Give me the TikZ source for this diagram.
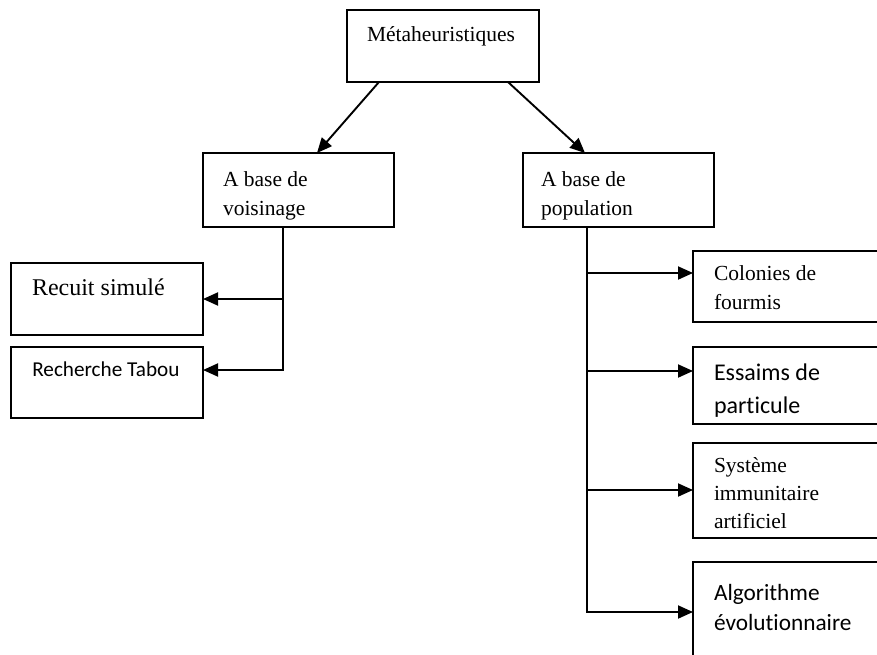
\documentclass[tikz,border=0pt]{standalone}
\usepackage{fontspec}
\setmainfont{Liberation Serif}
\newfontfamily\calib[Ligatures=NoCommon]{Carlito}
\usetikzlibrary{arrows.meta,calc}
\tikzset{
  box/.style={draw=black,line width=1.4pt,rectangle,anchor=north west,inner sep=0pt,outer sep=0pt},
  lbl/.style={anchor=base west,inner sep=0pt,outer sep=0pt,align=left},
  conn/.style={line width=1.9pt,-{Triangle[length=15pt,width=13pt]}},
  tms/.style={font=\fontsize{21.5}{28.5}\selectfont}
}
\begin{document}
\begin{tikzpicture}[x=1pt,y=-1pt]
\useasboundingbox (0,0) rectangle (877,655);
\clip (0,0) rectangle (877,655);
% boxes
\node[box,minimum width=192pt,minimum height=72pt] (meta) at (347,10) {};
\node[box,minimum width=191pt,minimum height=74pt] (vois) at (203,153) {};
\node[box,minimum width=191pt,minimum height=74pt] (pop) at (523,153) {};
\node[box,minimum width=192pt,minimum height=72pt] (recuit) at (11,263) {};
\node[box,minimum width=192pt,minimum height=71pt] (tabou) at (11,347) {};
\node[box,minimum width=200pt,minimum height=71pt] (col) at (693,251) {};
\node[box,minimum width=200pt,minimum height=77pt] (ess) at (693,347) {};
\node[box,minimum width=200pt,minimum height=95pt] (sys) at (693,443) {};
\node[box,minimum width=200pt,minimum height=110pt] (algo) at (693,562) {};
% texts
\node[lbl,tms] (tmeta) at (367,41.7) {Métaheuristiques};
\node[lbl,tms] (tvois1) at (223,186.7) {A base de};
\node[lbl,tms] (tvois2) at (223,215.2) {voisinage};
\node[lbl,tms] (tpop1) at (541,186.7) {A base de};
\node[lbl,tms] (tpop2) at (541,215.2) {population};
\node[lbl,font=\fontsize{24}{28}\selectfont] (trec) at (32,295.7) {Recuit simulé};
\node[lbl,font=\calib\fontsize{21.2}{28}\selectfont] (ttab) at (32.3,376.7) {Recherche Tabou};
\node[lbl,tms] (tcol1) at (714,280.7) {Colonies de};
\node[lbl,tms] (tcol2) at (714,309.4) {fourmis};
\node[lbl,font=\calib\fontsize{24}{33}\selectfont] (tess1) at (714,380) {Essaims de};
\node[lbl,font=\calib\fontsize{24}{33}\selectfont] (tess2) at (714,413) {particule};
\node[lbl,tms] (tsys1) at (714,472) {Système};
\node[lbl,tms] (tsys2) at (714,500.5) {immunitaire};
\node[lbl,tms] (tsys3) at (714,528) {artificiel};
\node[lbl,font=\calib\fontsize{23.3}{30}\selectfont] (talg1) at (714,600) {Algorithme};
\node[lbl,font=\calib\fontsize{23.3}{30}\selectfont] (talg2) at (714,630) {évolutionnaire};
% connectors top
\draw[conn] ($(meta.south west)+(32,0)$) -- ($(vois.north west)+(114,0)$);
\draw[conn] ($(meta.south west)+(161,0)$) -- ($(pop.north west)+(62,0)$);
% left trunk
\coordinate (tl) at ($(vois.south west)+(80,0)$);
\coordinate (tabin) at ($(tabou.north east)+(0,23)$);
\draw[conn] (tl) |- (tabin);
\draw[conn] (tl |- recuit.east) -- (recuit.east);
% right trunk
\coordinate (tr) at ($(pop.south west)+(64,0)$);
\coordinate (colin) at ($(col.north west)+(0,22)$);
\coordinate (essin) at ($(ess.north west)+(0,24)$);
\coordinate (sysin) at ($(sys.north west)+(0,47)$);
\coordinate (algin) at ($(algo.north west)+(0,50)$);
\draw[conn] (tr) |- (algin);
\draw[conn] (tr |- colin) -- (colin);
\draw[conn] (tr |- essin) -- (essin);
\draw[conn] (tr |- sysin) -- (sysin);
\end{tikzpicture}
\end{document}
